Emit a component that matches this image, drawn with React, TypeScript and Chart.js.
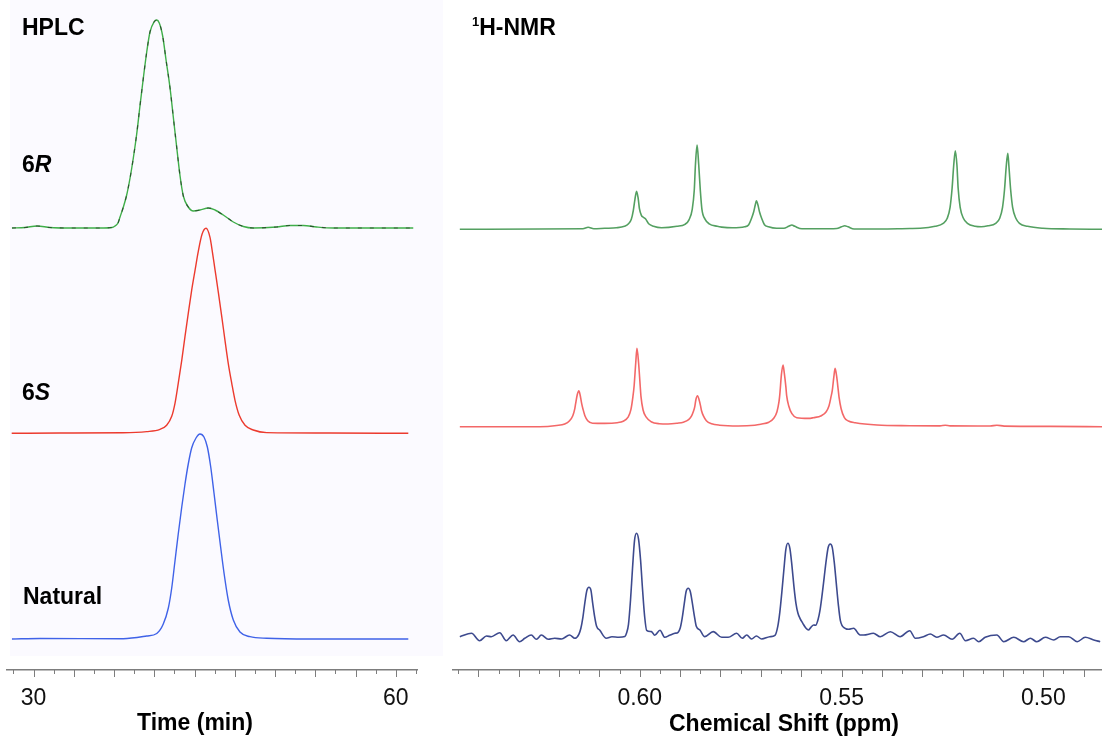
import { useEffect, useRef } from 'react';
import { Chart, registerables } from 'chart.js';

Chart.register(...registerables);

const FONT = '"Liberation Sans", Arial, Helvetica, sans-serif';

// ---------- HPLC chromatograms: retention time (min) / detector response ----------
const hplcTime6R = [28.21, 29.29, 30.28, 31.36, 33.02, 35.5, 36.49, 36.74, 36.99, 37.16, 37.41, 37.71, 37.99, 38.26, 38.54, 38.81, 39.09, 39.37, 39.64, 39.97, 40.2, 40.41, 40.69, 40.97, 41.3, 41.57, 41.85, 42.13, 42.4, 42.81, 43.23, 43.78, 44.47, 45.02, 45.71, 46.54, 47.37, 48.19, 50.13, 51.23, 52.33, 53.44, 54.82, 61.44];
const hplcSignal6R = [0, 0.5, 2, 0.5, 0, 0, 0.5, 2, 5, 11, 20, 33, 50, 70, 94, 122, 150, 176, 196, 206, 208, 205, 192, 168, 140, 111, 81, 52, 32, 21, 17, 18, 20, 18, 13, 6, 1.5, 0, 1, 2.5, 2.5, 1, 0, 0];

const hplcTime6S = [28.19, 32.19, 37.4, 39.37, 40.47, 41.02, 41.44, 41.71, 41.98, 42.27, 42.54, 42.81, 43.09, 43.37, 43.64, 43.95, 44.28, 44.61, 44.75, 45.02, 45.3, 45.58, 45.85, 46.12, 46.41, 46.68, 47.03, 47.51, 48.19, 49.3, 54.55, 61.03];
const hplcSignal6S = [0, 0.3, 0.5, 1.7, 4, 8, 17, 30, 50, 73, 97, 120, 143, 163, 182, 199, 205, 196, 186, 164, 141, 117, 93, 70, 50, 33, 18, 8, 3.3, 0.7, 0.3, 0];

const hplcTimeNatural = [28.21, 30.53, 37.43, 39.37, 40.2, 40.74, 41.16, 41.44, 41.71, 41.98, 42.27, 42.54, 42.81, 43.09, 43.45, 43.78, 44.11, 44.39, 44.67, 44.94, 45.21, 45.49, 45.77, 46.12, 46.54, 47.09, 47.92, 49.3, 52.89, 61.03];
const hplcSignalNatural = [0, 0.5, 0.3, 3, 5.5, 15, 31, 51, 78, 105, 132, 155, 175, 191, 201, 205, 202, 192, 172, 146, 119, 92, 66, 39, 19, 7, 2.3, 0.7, 0, 0];

// ---------- 1H-NMR spectra: chemical shift (ppm) / intensity ----------
const nmrShift6R = [0.6446, 0.6248, 0.6141, 0.6128, 0.6114, 0.6087, 0.6058, 0.6038, 0.6028, 0.6021, 0.6016, 0.6012, 0.6008, 0.6004, 0.6001, 0.5996, 0.5991, 0.5986, 0.5978, 0.5966, 0.5946, 0.5908, 0.5888, 0.5878, 0.5870, 0.5865, 0.5862, 0.5858, 0.5854, 0.5850, 0.5846, 0.5838, 0.5828, 0.5808, 0.5797, 0.5771, 0.5740, 0.5730, 0.5723, 0.5718, 0.5714, 0.5711, 0.5707, 0.5703, 0.5698, 0.5691, 0.5681, 0.5661, 0.5643, 0.5631, 0.5623, 0.5616, 0.5598, 0.5554, 0.5512, 0.5500, 0.5492, 0.5484, 0.5469, 0.5405, 0.5331, 0.5305, 0.5268, 0.5248, 0.5238, 0.5231, 0.5226, 0.5222, 0.5218, 0.5214, 0.5211, 0.5206, 0.5198, 0.5188, 0.5169, 0.5154, 0.5137, 0.5118, 0.5108, 0.5101, 0.5096, 0.5092, 0.5088, 0.5085, 0.5081, 0.5076, 0.5068, 0.5059, 0.5039, 0.5001, 0.4934, 0.4854];
const nmrSignal6R = [0, 0.3, 0.5, 2, 0.5, 1, 1.5, 3, 5.5, 10, 19, 30, 38, 31, 21, 14, 12, 10.5, 5.5, 3, 1.5, 3, 5, 9.5, 20, 39, 65, 84.3, 65, 39, 20, 10, 5.5, 3, 2.2, 1.5, 2.5, 4.5, 11, 17, 24, 28.6, 24, 17, 11, 4.5, 2.5, 1, 1, 3, 4.3, 3, 0.5, 0.5, 0.8, 2.5, 3.6, 2.5, 0.3, 0.3, 0.8, 1, 3, 6, 11, 22, 41, 64, 78.6, 64, 41, 22, 11, 6, 3, 2.5, 3.5, 6, 11, 22, 40, 62, 76, 62, 40, 22, 11, 6, 3, 1, 0.3, 0];

const nmrShift6S = [0.6446, 0.6248, 0.6206, 0.6186, 0.6174, 0.6166, 0.6161, 0.6159, 0.6155, 0.6151, 0.6148, 0.6144, 0.6141, 0.6136, 0.6129, 0.6117, 0.6087, 0.6056, 0.6041, 0.6029, 0.6022, 0.6017, 0.6014, 0.6010, 0.6007, 0.6003, 0.5999, 0.5997, 0.5992, 0.5984, 0.5972, 0.5952, 0.5930, 0.5907, 0.5892, 0.5879, 0.5872, 0.5867, 0.5864, 0.5861, 0.5857, 0.5853, 0.5849, 0.5847, 0.5842, 0.5835, 0.5822, 0.5802, 0.5756, 0.5715, 0.5700, 0.5680, 0.5668, 0.5660, 0.5655, 0.5653, 0.5649, 0.5645, 0.5642, 0.5638, 0.5636, 0.5631, 0.5623, 0.5611, 0.5582, 0.5570, 0.5550, 0.5538, 0.5531, 0.5526, 0.5523, 0.5519, 0.5516, 0.5512, 0.5508, 0.5506, 0.5501, 0.5493, 0.5483, 0.5466, 0.5412, 0.5331, 0.5256, 0.5243, 0.5231, 0.5132, 0.5115, 0.5097, 0.4983, 0.4854];
const nmrSignal6S = [0, 0, 1.2, 2.7, 6, 11, 18, 23, 32, 36, 32, 23, 18, 11, 6, 3.5, 3.3, 4, 5.5, 9.5, 17, 30, 41, 64, 78.3, 64, 41, 30, 17, 9.5, 5, 3, 2.7, 3.5, 4.5, 7, 10.5, 15.5, 19.5, 27, 31, 27, 20, 16, 10.5, 6, 3, 1.5, 0.7, 1.5, 2.5, 4.5, 8.5, 15, 25, 32, 52, 61.7, 54, 40, 31, 21, 13, 9, 8.3, 9, 11, 15, 21, 30, 36, 50, 58.3, 50, 36, 29, 18, 9, 5.7, 4, 1.7, 1, 0.8, 1.5, 0.8, 0.7, 1.5, 0.6, 0.3, 0];

const nmrShiftNatural = [0.6446, 0.6417, 0.6397, 0.6380, 0.6368, 0.6347, 0.6331, 0.6314, 0.6298, 0.6285, 0.6269, 0.6256, 0.6244, 0.6227, 0.6211, 0.6194, 0.6174, 0.6161, 0.6151, 0.6146, 0.6141, 0.6136, 0.6131, 0.6126, 0.6121, 0.6117, 0.6112, 0.6107, 0.6099, 0.6083, 0.6069, 0.6052, 0.6037, 0.6033, 0.6028, 0.6023, 0.6018, 0.6013, 0.6008, 0.6003, 0.5998, 0.5993, 0.5988, 0.5983, 0.5971, 0.5963, 0.5950, 0.5938, 0.5926, 0.5913, 0.5905, 0.5900, 0.5895, 0.5890, 0.5885, 0.5880, 0.5875, 0.5870, 0.5865, 0.5860, 0.5851, 0.5839, 0.5818, 0.5797, 0.5781, 0.5760, 0.5746, 0.5735, 0.5723, 0.5711, 0.5698, 0.5678, 0.5665, 0.5658, 0.5653, 0.5648, 0.5643, 0.5638, 0.5633, 0.5628, 0.5623, 0.5618, 0.5613, 0.5608, 0.5603, 0.5596, 0.5588, 0.5582, 0.5576, 0.5569, 0.5564, 0.5558, 0.5553, 0.5548, 0.5543, 0.5538, 0.5533, 0.5528, 0.5523, 0.5518, 0.5513, 0.5508, 0.5503, 0.5491, 0.5482, 0.5470, 0.5454, 0.5445, 0.5421, 0.5404, 0.5379, 0.5355, 0.5331, 0.5317, 0.5297, 0.5280, 0.5264, 0.5247, 0.5226, 0.5207, 0.5193, 0.5173, 0.5160, 0.5144, 0.5115, 0.5098, 0.5073, 0.5049, 0.5032, 0.5016, 0.4995, 0.4974, 0.4958, 0.4937, 0.4916, 0.4896, 0.4875, 0.4859];
const nmrSignalNatural = [1.6, 5, -2.4, 2.3, 1.6, 5.6, -2.4, 3.3, -3.4, 0, 3.3, -1, 3.3, -1, 0, -0.7, 3.3, 0, 4, 10, 21, 36, 48, 51, 48, 36, 22, 12, 8, 0, 1.5, 1, 1.7, 5, 14, 38, 70, 98, 105, 99, 78, 48, 22, 8, 6.7, 3, 8, 1, 3, 5, 6, 10, 20, 34, 47, 50, 47, 36, 23, 12, 8.3, 1.7, 6.7, 1, 1, 5, 0, 3.3, -0.7, 2.3, -0.7, 1.6, 3, 12, 26, 46, 68, 89, 95, 90, 73, 52, 35, 25, 20, 15, 10, 8.3, 11, 13.3, 13, 19, 29, 44, 61, 78, 91, 94.3, 91, 76, 55, 34, 18, 10, 9, 10, 3.3, 3.3, 5, 1.6, 6.6, 1.6, 7.6, 0, 1.6, 4.3, 1, 3.3, -1, 5, -2.4, 0, -3.4, 1, 3.3, -3.4, 1, -3.4, 0, -3.4, 1, -1.7, 1.6, 1.6, -3.4, 1, -1.7, -3.4];

// ---------- axis tick labels ----------
const timeTickLabels = ['30', '60'];
const shiftTickLabels = ['0.60', '0.55', '0.50'];

// baseline of each stacked trace, in y-axis units
const HPLC_BASE_6R = 442;
const HPLC_BASE_6S = 236.7;
const HPLC_BASE_NATURAL = 31;
const NMR_BASE_6R = 440.7;
const NMR_BASE_6S = 243.3;
const NMR_BASE_NATURAL = 31.7;

const AXIS_GREY = '#7d7d7d';

type Part = { text: string; font: string; dy?: number };
type TextItem = { x: number; y: number; parts: Part[]; center?: boolean };

const bold = (size: number) => `bold ${size}px ${FONT}`;
const boldItalic = (size: number) => `italic bold ${size}px ${FONT}`;

const toPoints = (xs: number[], ys: number[], base: number) =>
  xs.map((x, i) => ({ x, y: ys[i] + base }));

const trace = (data: { x: number; y: number }[], color: string, width: number, extra: any = {}) => ({
  data,
  borderColor: color,
  borderWidth: width,
  pointRadius: 0,
  fill: false,
  cubicInterpolationMode: 'monotone',
  order: 1,
  ...extra,
});

// draws the panel tint, minor/major tick marks and the text labels
function panelDecor(texts: TextItem[], isMajor: (v: number) => boolean, tint?: { x: number; y: number; w: number; h: number; color: string }) {
  return {
    id: 'panelDecor',
    beforeDraw(chart: any) {
      if (!tint) return;
      const { ctx } = chart;
      ctx.save();
      ctx.fillStyle = tint.color;
      ctx.fillRect(tint.x, tint.y, tint.w, tint.h);
      ctx.restore();
    },
    afterDraw(chart: any) {
      const { ctx, chartArea } = chart;
      const scale = chart.scales.x;
      ctx.save();
      ctx.strokeStyle = AXIS_GREY;
      ctx.lineWidth = 1;
      for (const t of scale.ticks) {
        const px = Math.round(scale.getPixelForValue(t.value)) + 0.5;
        const len = isMajor(t.value) ? 7 : 4;
        ctx.beginPath();
        ctx.moveTo(px, chartArea.bottom);
        ctx.lineTo(px, chartArea.bottom + len);
        ctx.stroke();
      }
      ctx.fillStyle = '#000';
      ctx.textBaseline = 'alphabetic';
      ctx.textAlign = 'left';
      for (const item of texts) {
        const widths = item.parts.map((p) => {
          ctx.font = p.font;
          return ctx.measureText(p.text).width;
        });
        const total = widths.reduce((a, b) => a + b, 0);
        let x = item.center ? item.x - total / 2 : item.x;
        item.parts.forEach((p, i) => {
          ctx.font = p.font;
          ctx.fillText(p.text, x, item.y + (p.dy || 0));
          x += widths[i];
        });
      }
      ctx.restore();
    },
  };
}

function xAxis(min: number, max: number, tickValues: number[], labels: string[], reverse: boolean) {
  return {
    type: 'linear',
    min,
    max,
    reverse,
    afterBuildTicks: (scale: any) => {
      scale.ticks = tickValues.map((value) => ({ value }));
    },
    afterFit: (scale: any) => {
      scale.height = 66;
    },
    grid: { display: false, drawTicks: false },
    border: { display: true, color: AXIS_GREY, width: 1.6 },
    ticks: {
      autoSkip: false,
      maxRotation: 0,
      padding: 0,
      color: '#111',
      // the tall line box puts the label centre ~29px under the axis line
      font: { family: FONT, size: 23, lineHeight: '58px' },
      callback: (value: number) => labels.find((l) => Math.abs(Number(l) - value) < 1e-6) ?? '',
    },
  };
}

const commonOptions = (padding: any) => ({
  responsive: false,
  animation: false,
  events: [],
  layout: { padding },
  plugins: { legend: { display: false }, tooltip: { enabled: false } },
});

function hplcConfig(): any {
  const step = 5 / 3;
  const ticks: number[] = [];
  for (let k = -1; k <= 19; k++) ticks.push(30 + k * step);
  const green = toPoints(hplcTime6R, hplcSignal6R, HPLC_BASE_6R);
  return {
    type: 'line',
    data: {
      datasets: [
        trace(green, 'rgba(25,30,25,0.6)', 1.2, { borderDash: [4, 8], order: 0 }),
        trace(green, '#3fae49', 1.4),
        trace(toPoints(hplcTime6S, hplcSignal6S, HPLC_BASE_6S), '#ec3a2e', 1.4),
        trace(toPoints(hplcTimeNatural, hplcSignalNatural, HPLC_BASE_NATURAL), '#3f62e8', 1.4),
      ],
    },
    options: {
      ...commonOptions({ left: 7, right: 26, top: 0, bottom: 0 }),
      scales: {
        x: xAxis(27.8, 61.75, ticks, timeTickLabels, false),
        y: { display: false, min: 0, max: 670 },
      },
    },
    plugins: [
      panelDecor(
        [
          { x: 22, y: 35, parts: [{ text: 'HPLC', font: bold(23) }] },
          { x: 22, y: 172, parts: [{ text: '6', font: bold(23) }, { text: 'R', font: boldItalic(23) }] },
          { x: 22, y: 400, parts: [{ text: '6', font: bold(23) }, { text: 'S', font: boldItalic(23) }] },
          { x: 23, y: 604, parts: [{ text: 'Natural', font: bold(23) }] },
          { x: 195, y: 730, center: true, parts: [{ text: 'Time (min)', font: bold(23) }] },
        ],
        (v) => Math.abs(Math.round((v - 30) / step)) % 2 === 0,
        { x: 10, y: 0, w: 433, h: 656, color: '#fbfaff' }
      ),
    ],
  };
}

function nmrConfig(): any {
  const ticks: number[] = [];
  for (let k = 645; k >= 490; k -= 5) ticks.push(k / 1000);
  return {
    type: 'line',
    data: {
      datasets: [
        trace(toPoints(nmrShift6R, nmrSignal6R, NMR_BASE_6R), '#54a061', 1.6),
        trace(toPoints(nmrShift6S, nmrSignal6S, NMR_BASE_6S), '#f36868', 1.6),
        trace(toPoints(nmrShiftNatural, nmrSignalNatural, NMR_BASE_NATURAL), '#3d4a8e', 1.6),
      ],
    },
    options: {
      ...commonOptions({ left: 10, right: 0, top: 0, bottom: 0 }),
      scales: {
        x: xAxis(0.48545, 0.64629, ticks, shiftTickLabels, true),
        y: { display: false, min: 0, max: 670 },
      },
    },
    plugins: [
      panelDecor(
        [
          { x: 29, y: 35, parts: [{ text: '1', font: bold(13), dy: -9 }, { text: 'H-NMR', font: bold(23) }] },
          { x: 341, y: 730.5, center: true, parts: [{ text: 'Chemical Shift (ppm)', font: bold(23) }] },
        ],
        (v) => Math.round(v * 1000) % 10 === 0
      ),
    ],
  };
}

export default function App() {
  const hplcRef = useRef<HTMLCanvasElement>(null);
  const nmrRef = useRef<HTMLCanvasElement>(null);

  useEffect(() => {
    const charts = [new Chart(hplcRef.current as HTMLCanvasElement, hplcConfig()), new Chart(nmrRef.current as HTMLCanvasElement, nmrConfig())];
    return () => charts.forEach((c) => c.destroy());
  }, []);

  return (
    <div style={{ position: 'absolute', left: 0, top: 0, width: 1102, height: 736, background: '#fff', overflow: 'hidden' }}>
      <canvas ref={hplcRef} width={443} height={736} style={{ position: 'absolute', left: 0, top: 0, width: 443, height: 736 }} />
      <canvas ref={nmrRef} width={659} height={736} style={{ position: 'absolute', left: 443, top: 0, width: 659, height: 736 }} />
    </div>
  );
}
